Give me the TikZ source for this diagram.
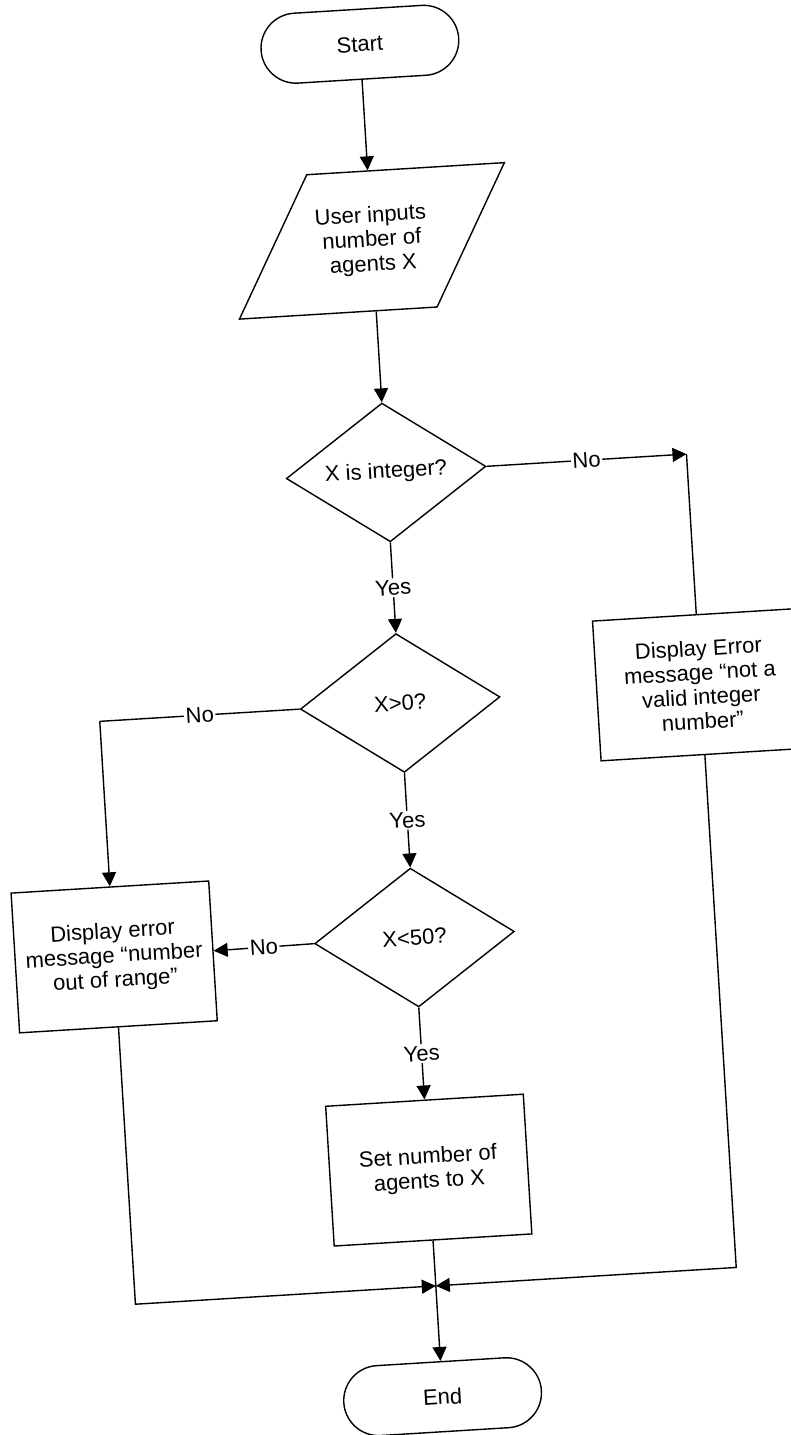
\documentclass[tikz,border=0pt]{standalone}
\usepackage{fontspec}
\setmainfont{Liberation Sans}
\usetikzlibrary{shapes.geometric,arrows.meta}
\begin{document}
\begin{tikzpicture}[x=0.5pt,y=0.5pt,
  line width=0.7pt,
  every node/.style={font=\fontsize{11}{12.2}\selectfont},
  terminal/.style={draw, rectangle, rounded corners=17.5pt, minimum width=99pt, minimum height=35pt, inner sep=0pt},
  iobox/.style={rectangle, minimum width=99pt, minimum height=70pt, align=center, inner sep=0pt},
  procbox/.style={draw, rectangle, minimum width=99pt, minimum height=70pt, align=center, inner sep=2pt},
  decision/.style={draw, diamond, aspect=1.44, minimum width=100pt, minimum height=69.5pt, inner sep=0pt},
  flow/.style={-{Triangle[length=7pt,width=7pt]}},
  lbl/.style={fill=white, inner sep=0.8pt}]
\useasboundingbox (-400,-735) rectangle (391,700);
\begin{scope}[rotate=3.5, transform shape]
  % main column
  \node[terminal] (start) at (0,657) {Start};
  \node[iobox] (in) at (0,460) {User inputs\\number of\\agents X};
  \draw (-61,530) -- (137,530) -- (61,390) -- (-137,390) -- cycle;
  \node[decision] (d1) at (0,228) {X is integer?};
  \node[decision] (d2) at (0,-3) {X>0?};
  \node[decision] (d3) at (0,-238) {X<50?};
  \node[procbox] (set) at (0,-471) {Set number of\\agents to X};
  \node[terminal] (end) at (0,-698) {End};
  % error branches
  \node[procbox, minimum width=104pt] (rbox) at (301,-3) {Display Error\\message “not a\\valid integer\\number”};
  \node[procbox] (lbox) at (-301,-239) {Display error\\message “number\\out of range”};
  % bends and junction
  \coordinate (c1) at (301,228);
  \coordinate (c2) at (-301,-3);
  \coordinate (c3) at (-301,-587);
  \coordinate (c4) at (301,-587);
  \coordinate (m) at (0,-587);
  % connectors
  \draw[flow] (start) -- (in);
  \draw[flow] (in) -- (d1);
  \draw[flow] (d1.east) -- node[lbl] {No} (c1);
  \draw (c1) -- (rbox.north);
  \draw[flow] (d1.south) -- node[lbl] {Yes} (d2.north);
  \draw (d2.west) -- node[lbl] {No} (c2);
  \draw[flow] (c2) -- (lbox.north);
  \draw[flow] (d2.south) -- node[lbl] {Yes} (d3.north);
  \draw[flow] (d3.west) -- node[lbl] {No} (lbox.east);
  \draw[flow] (d3.south) -- node[lbl] {Yes} (set.north);
  \draw[flow] (set.south) -- (end.north);
  \draw[flow] (lbox.south) -- (c3) -- (m);
  \draw[flow] (rbox.south) -- (c4) -- (m);
\end{scope}
\end{tikzpicture}
\end{document}
